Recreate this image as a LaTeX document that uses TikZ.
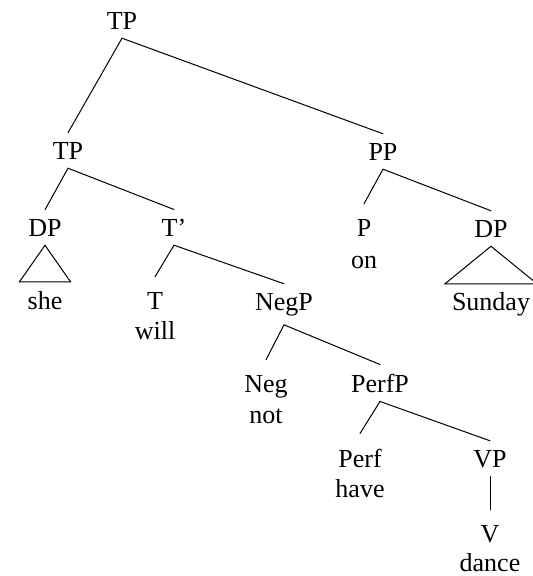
\documentclass[tikz,border=0pt]{standalone}
\usepackage{fontspec}
\setmainfont{Liberation Serif}
\begin{document}
\begin{tikzpicture}[x=1pt,y=-1pt,
  every node/.style={font=\fontsize{26}{31}\selectfont, inner xsep=1pt, anchor=base},
  cat/.style={inner ysep=9pt},
  head/.style={inner ysep=15pt},
  word/.style={inner ysep=0pt},
  branch/.style={line width=1pt, line cap=round, line join=miter}]
\useasboundingbox (0,0) rectangle (533,576);

% categories and words, placed on their baselines
\node[cat]  (tp0)   at (122,29)  {TP};
\node[cat]  (tp1)   at (68,159)  {TP};
\node[cat]  (pp)    at (383,160) {PP};
\node[cat]  (dpl)   at (45,236)  {DP};
\node[cat]  (tbar)  at (174,236) {T’};
\node[head] (p)     at (364,236) {P};
\node[word] (on)    at (364,268) {on};
\node[cat]  (dpr)   at (491,237) {DP};
\node[word] (she)   at (45,309)  {she};
\node[word] (sunday) at (491,310) {Sunday};
\node[head] (t)     at (155,309) {T};
\node[word] (will)  at (155,339) {will};
\node[cat]  (negp)  at (284,310) {NegP};
\node[head] (neg)   at (266,392) {Neg};
\node[word] (not)   at (266,423) {not};
\node[cat]  (perfp) at (380,392) {PerfP};
\node[head] (perf)  at (360,467) {Perf};
\node[word] (have)  at (360,497) {have};
\node[cat]  (vp)    at (490,467) {VP};
\node[head] (v)     at (490,542) {V};
\node[word] (dance) at (490,571) {dance};

% branches
\draw[branch] (tp0.south) -- (tp1.north);
\draw[branch] (tp0.south) -- (pp.north);
\draw[branch] (tp1.south) -- (dpl.north);
\draw[branch] (tp1.south) -- (tbar.north);
\draw[branch] (tbar.south) -- (t.north);
\draw[branch] (tbar.south) -- (negp.north);
\draw[branch] (negp.south) -- (neg.north);
\draw[branch] (negp.south) -- (perfp.north);
\draw[branch] (perfp.south) -- (perf.north);
\draw[branch] (perfp.south) -- (vp.north);
\draw[branch] (vp.south) -- (v.north);
\draw[branch] (pp.south) -- (p.north);
\draw[branch] (pp.south) -- (dpr.north);

% roofs over unanalysed phrases
\draw[branch] (dpl.south) -- ([xshift=-25.5pt,yshift=9pt]she.north)
  -- ([xshift=25.5pt,yshift=9pt]she.north) -- cycle;
\draw[branch] (dpr.south) -- ([xshift=-46pt,yshift=8pt]sunday.north)
  -- ([xshift=46pt,yshift=8pt]sunday.north) -- cycle;
\end{tikzpicture}
\end{document}
